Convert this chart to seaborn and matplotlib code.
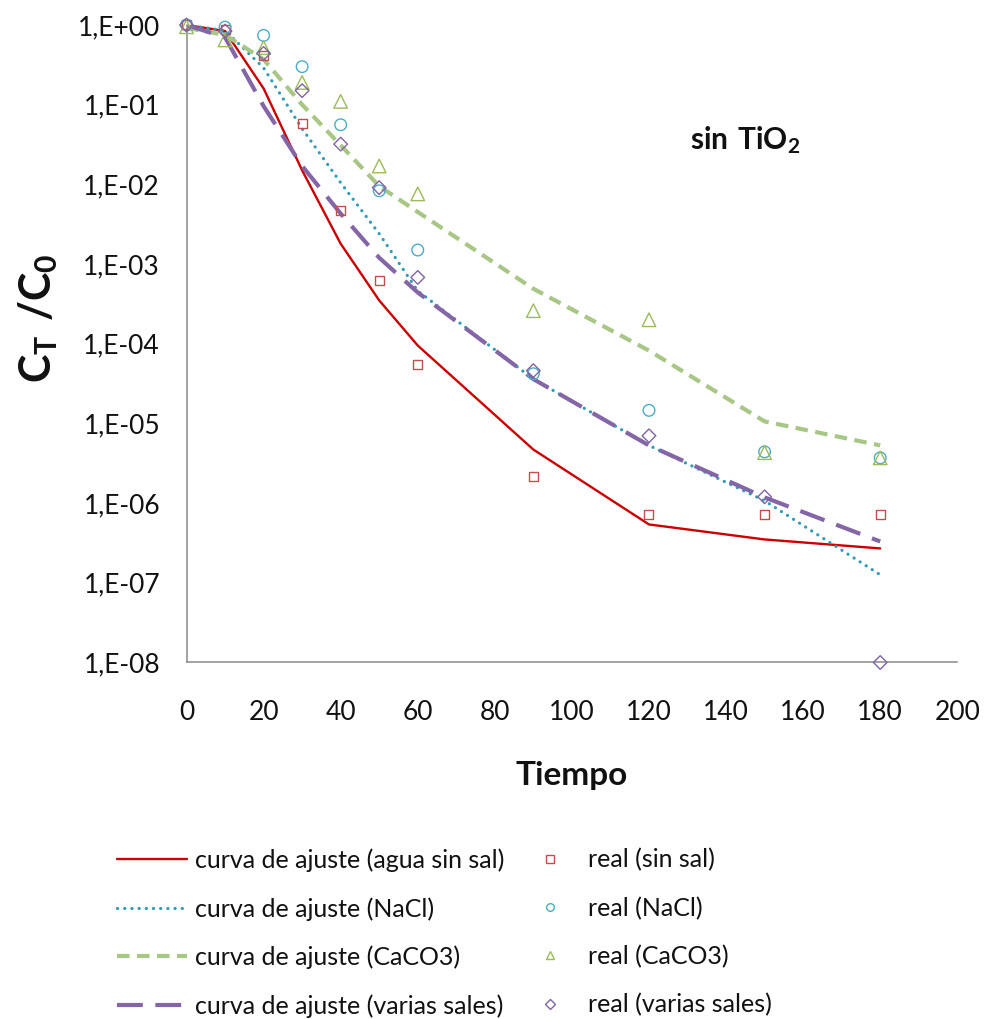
import numpy as np
import pandas as pd
import matplotlib
matplotlib.use("Agg")
import matplotlib.pyplot as plt
import seaborn as sns
from matplotlib.ticker import FixedLocator, FuncFormatter, NullLocator
from matplotlib.lines import Line2D

# Sampling times
tiempo = [0, 10, 20, 30, 40, 50, 60, 90, 120, 150, 180]

# Fitted curves C_T/C_0
ajuste_sin_sal = [1.0, 0.84, 0.16, 0.015, 0.0018, 3.5e-4, 9.5e-5, 4.7e-6, 5.4e-7, 3.5e-7, 2.7e-7]
ajuste_nacl = [1.0, 0.85, 0.29, 0.05, 0.0105, 0.0024, 4.6e-4, 3.6e-5, 5.3e-6, 1.07e-6, 1.26e-7]
ajuste_caco3 = [0.92, 0.75, 0.37, 0.10, 0.031, 0.0095, 0.0045, 4.9e-4, 8.2e-5, 1.06e-5, 5.3e-6]
ajuste_varias = [1.0, 0.70, 0.096, 0.017, 0.0043, 0.0012, 4.4e-4, 3.6e-5, 5.3e-6, 1.18e-6, 3.3e-7]

# Measured C_T/C_0
real_sin_sal = [1.0, 0.88, 0.42, 0.058, 0.0047, 6.2e-4, 5.5e-5, 2.15e-6, 7.2e-7, 7.2e-7, 7.2e-7]
real_nacl = [1.0, 0.94, 0.74, 0.30, 0.056, 0.0083, 0.0015, 4.2e-5, 1.46e-5, 4.4e-6, 3.7e-6]
real_caco3 = [0.95, 0.65, 0.52, 0.19, 0.11, 0.017, 0.0076, 2.6e-4, 2.0e-4, 4.3e-6, 3.7e-6]
real_varias = [1.0, 0.84, 0.44, 0.15, 0.032, 0.0091, 6.8e-4, 4.6e-5, 7.0e-6, 1.2e-6, 1.0e-8]

etiquetas_ajuste = ["curva de ajuste (agua sin sal)", "curva de ajuste (NaCl)",
                    "curva de ajuste (CaCO3)", "curva de ajuste (varias sales)"]
etiquetas_real = ["real (sin sal)", "real (NaCl)", "real (CaCO3)", "real (varias sales)"]

x_ticks = [0, 20, 40, 60, 80, 100, 120, 140, 160, 180, 200]
y_exponents = [0, -1, -2, -3, -4, -5, -6, -7, -8]

sns.set_theme(style="white")
plt.rcParams["font.family"] = ["Lato", "DejaVu Sans"]
plt.rcParams["mathtext.fontset"] = "custom"
plt.rcParams["mathtext.rm"] = "Lato"
plt.rcParams["mathtext.bf"] = "Lato:bold"

fig = plt.figure(figsize=(9.87, 10.19), dpi=100)
ax = fig.add_axes([0.18896, 0.34986, 0.78095, 0.62561])
ax.set_yscale("log")

# Line styles of the fitted curves
line_styles = [
    dict(color="#CC0000", linewidth=1.7, linestyle="solid"),
    dict(color="#2F9DB6", linewidth=2.3, linestyle=(0, (0.05, 2.2)), dash_capstyle="round"),
    dict(color="#A8C685", linewidth=3.0, linestyle=(0, (3.0, 1.8))),
    dict(color="#8466A6", linewidth=3.0, linestyle=(0, (6.2, 3.0))),
]
marker_styles = [
    dict(marker="s", s=42, color="#C0504D"),
    dict(marker="o", s=70, color="#4BACC6"),
    dict(marker="^", s=95, color="#9BBB59"),
    dict(marker="D", s=48, color="#8064A2"),
]

ajustes = [ajuste_sin_sal, ajuste_nacl, ajuste_caco3, ajuste_varias]
reales = [real_sin_sal, real_nacl, real_caco3, real_varias]

for vals, lab, st in zip(ajustes, etiquetas_ajuste, line_styles):
    df = pd.DataFrame({"Tiempo": tiempo, "CT_C0": vals})
    sns.lineplot(data=df, x="Tiempo", y="CT_C0", ax=ax, legend=False,
                 zorder=2, **st)

for vals, lab, st in zip(reales, etiquetas_real, marker_styles):
    df = pd.DataFrame({"Tiempo": tiempo, "CT_C0": vals})
    sns.scatterplot(data=df, x="Tiempo", y="CT_C0", ax=ax, legend=False,
                    marker=st["marker"], s=st["s"], color=st["color"],
                    facecolor="none", edgecolor=st["color"], linewidth=1.0,
                    zorder=3, clip_on=False)

ax.set_xlim(0, 200)
ax.set_ylim(1e-8, 1.0)
ax.xaxis.set_major_locator(FixedLocator(x_ticks))
ax.yaxis.set_major_locator(FixedLocator([10.0 ** e for e in y_exponents]))
ax.yaxis.set_minor_locator(NullLocator())
ax.yaxis.set_major_formatter(FuncFormatter(
    lambda v, p: "1,E{:+03d}".format(int(round(np.log10(v))))))
ax.tick_params(axis="both", length=0, labelsize=19, colors="#111111")
ax.tick_params(axis="y", pad=19)
ax.tick_params(axis="x", pad=27)

for side in ["top", "right"]:
    ax.spines[side].set_visible(False)
for side in ["left", "bottom"]:
    ax.spines[side].set_color("#8A8A8A")
    ax.spines[side].set_linewidth(1.1)
ax.grid(False)

ax.set_xlabel("Tiempo", fontsize=24, fontweight="bold", color="#111111", va="center")
ax.xaxis.set_label_coords(0.500, -0.178)
ax.set_ylabel(r"$\mathbf{C_T\ /C_0}$", fontsize=31, color="#111111", va="center")
ax.yaxis.set_label_coords(-0.193, 0.54)

ax.text(0.7246, 0.8196, r"$\mathbf{sin\ TiO_2}$", transform=ax.transAxes,
        fontsize=21.5, ha="center", va="center", color="#111111")

# Legend: fitted curves (left column) and measurements (right column)
line_handles = [Line2D([], [], **st) for st in line_styles]
marker_handles = [Line2D([], [], linestyle="none", marker=st["marker"],
                         markersize=5.5 if st["marker"] != "D" else 4.6,
                         markerfacecolor="none", markeredgecolor=st["color"],
                         markeredgewidth=1.0)
                  for st in marker_styles]

leg_kw = dict(frameon=False, fontsize=18, labelspacing=1.0, borderpad=0,
              borderaxespad=0, loc="upper left", labelcolor="#111111")
leg1 = fig.legend(line_handles, etiquetas_ajuste, bbox_to_anchor=(0.1182, 0.1675),
                  handlelength=2.8, handletextpad=0.32, **leg_kw)
leg2 = fig.legend(marker_handles, etiquetas_real, bbox_to_anchor=(0.5470, 0.1675),
                  handlelength=0.8, handletextpad=1.12, **leg_kw)

fig.savefig("out.png", dpi=100, facecolor="white")
